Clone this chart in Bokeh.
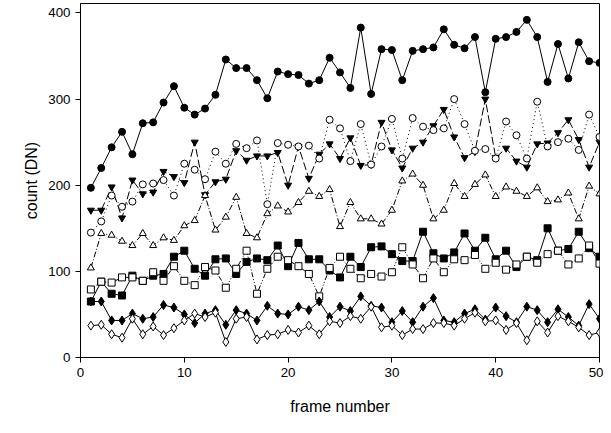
from bokeh.plotting import figure
from bokeh.models import Range1d, FixedTicker
from bokeh.embed import file_html
from bokeh.resources import INLINE

frames = list(range(1, 51))

filled_circle = [197, 220, 244, 262, 236, 272, 273, 296, 315, 290, 282, 289, 305, 346, 336, 336, 322, 301, 332, 329,
                 328, 318, 322, 348, 331, 313, 383, 306, 358, 357, 322, 356, 358, 360, 381, 363, 359, 372, 308, 370,
                 372, 378, 392, 372, 320, 364, 324, 366, 344, 342]
down_tri = [171, 171, 198, 162, 206, 190, 192, 216, 210, 203, 250, 189, 204, 207, 240, 229, 234, 234, 238, 200,
            245, 208, 236, 248, 231, 255, 223, 224, 273, 241, 220, 243, 250, 269, 288, 256, 232, 239, 300, 232,
            243, 228, 221, 248, 249, 261, 276, 253, 221, 250]
open_circle = [145, 158, 188, 175, 181, 201, 202, 206, 188, 225, 218, 207, 239, 225, 248, 243, 252, 178, 249, 247,
               245, 246, 231, 276, 266, 228, 271, 224, 245, 277, 231, 278, 268, 264, 266, 300, 271, 240, 242, 231,
               274, 258, 231, 297, 245, 250, 254, 241, 282, 256]
up_tri = [104, 144, 142, 135, 130, 144, 130, 139, 136, 153, 159, 188, 148, 163, 186, 144, 139, 167, 176, 169,
          180, 193, 187, 195, 152, 180, 161, 161, 155, 171, 205, 213, 200, 161, 171, 202, 187, 201, 212, 187,
          198, 193, 187, 197, 181, 183, 191, 161, 199, 190]
filled_square = [65, 88, 74, 72, 95, 89, 95, 97, 117, 124, 103, 95, 114, 115, 97, 111, 115, 113, 130, 106,
                 133, 114, 114, 101, 93, 117, 105, 128, 129, 120, 112, 112, 146, 121, 115, 122, 144, 124, 139, 114,
                 124, 105, 117, 113, 150, 124, 126, 146, 127, 117]
open_square = [79, 88, 87, 93, 93, 89, 99, 89, 106, 89, 84, 105, 101, 81, 103, 124, 74, 103, 117, 113,
               106, 97, 71, 104, 117, 103, 92, 97, 94, 99, 128, 108, 92, 115, 99, 114, 113, 119, 103, 110,
               102, 108, 117, 110, 120, 124, 108, 115, 130, 109]
filled_diamond = [65, 65, 43, 43, 51, 45, 47, 61, 58, 50, 40, 51, 55, 38, 55, 51, 43, 60, 51, 50,
                  59, 55, 65, 47, 59, 54, 71, 60, 58, 41, 54, 41, 59, 69, 43, 41, 51, 56, 44, 58,
                  48, 41, 59, 55, 41, 56, 47, 37, 62, 45]
open_diamond = [37, 38, 27, 23, 45, 27, 36, 26, 34, 43, 51, 47, 52, 18, 45, 47, 21, 26, 27, 32,
                29, 37, 27, 42, 40, 48, 45, 59, 35, 37, 26, 33, 33, 40, 40, 37, 45, 52, 42, 43,
                32, 40, 20, 42, 29, 48, 42, 35, 26, 29]

p = figure(width=603, height=417, output_backend="svg", toolbar_location=None,
           x_range=Range1d(0, 50), y_range=Range1d(0, 411),
           min_border_left=80, min_border_right=4, min_border_top=3, min_border_bottom=58)
p.outline_line_color = "black"
p.outline_line_width = 1
p.grid.visible = False

series = [
    (filled_circle, "circle", "black", "solid"),
    (down_tri, "inverted_triangle", "black", "8 3"),
    (open_circle, "circle", "white", "1 3"),
    (up_tri, "triangle", "white", "6 2 1 2"),
    (filled_square, "square", "black", "solid"),
    (open_square, "square", "white", "5 2 1 2 1 2"),
    (filled_diamond, "diamond", "black", "solid"),
    (open_diamond, "diamond", "white", "solid"),
]
for ys, marker, fill, dash in series:
    p.line(frames, ys, line_color="black", line_width=1, line_dash=dash)
    p.scatter(frames, ys, marker=marker, size=7 if marker != "diamond" else 9,
              fill_color=fill, line_color="black", line_width=1)

for ax in (p.xaxis, p.yaxis):
    ax.axis_label_text_font = "Liberation Sans"
    ax.axis_label_text_font_style = "normal"
    ax.axis_label_text_font_size = "12pt"
    ax.axis_label_text_color = "black"
    ax.major_label_text_font = "Liberation Sans"
    ax.major_label_text_font_size = "10pt"
    ax.major_label_text_color = "black"
    ax.minor_tick_line_color = None
    ax.major_tick_line_color = "black"
    ax.major_tick_out = 5
    ax.major_tick_in = 0
    ax.axis_line_color = "black"
p.xaxis.axis_label = "frame number"
p.yaxis.axis_label = "count (DN)"
p.xaxis.ticker = FixedTicker(ticks=[0, 10, 20, 30, 40, 50])
p.yaxis.ticker = FixedTicker(ticks=[0, 100, 200, 300, 400])
p.xaxis.axis_label_standoff = 18

open("out.html", "w").write(file_html(p, INLINE))
